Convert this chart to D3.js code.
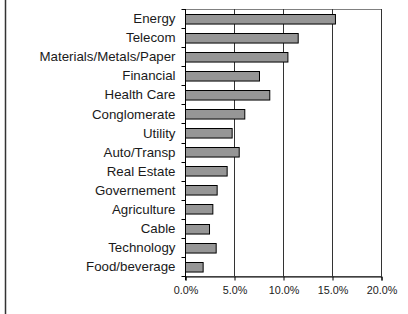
<!DOCTYPE html>
<html>
<head>
<meta charset="utf-8">
<script src="https://cdn.jsdelivr.net/npm/d3@7"></script>
<style>
  body { margin: 0; background: #fff; }
  svg { display: block; font-family: "Liberation Sans", Arial, sans-serif; }
</style>
</head>
<body>
<div id="chart"></div>
<script>
// sector weights (share of portfolio)
const sectors = ['Energy', 'Telecom', 'Materials/Metals/Paper', 'Financial', 'Health Care',
  'Conglomerate', 'Utility', 'Auto/Transp', 'Real Estate', 'Governement', 'Agriculture',
  'Cable', 'Technology', 'Food/beverage'];
const weights = [0.153, 0.115, 0.1045, 0.0755, 0.086, 0.0605, 0.0476, 0.0548, 0.0425,
  0.0323, 0.0279, 0.0245, 0.0313, 0.018];
const xTicks = [0, 0.05, 0.10, 0.15, 0.20];

const W = 408, H = 314;
const margin = { top: 9, right: 27, bottom: 38, left: 185 };
const width = W - margin.left - margin.right;
const height = H - margin.top - margin.bottom;

const svg = d3.select('#chart')
  .append('svg')
  .attr('width', W)
  .attr('height', H);

// chart area frame (only left edge visible)
svg.append('line')
  .attr('x1', 5.5).attr('x2', 5.5)
  .attr('y1', 0).attr('y2', H)
  .attr('stroke', '#333')
  .attr('stroke-width', 1.5);

const g = svg.append('g')
  .attr('transform', 'translate(' + margin.left + ',' + margin.top + ')');

const x = d3.scaleLinear()
  .domain([0, 0.20])
  .range([0, width]);

const y = d3.scaleBand()
  .domain(sectors)
  .range([0, height])
  .paddingInner(0.5)
  .paddingOuter(0.25);

// plot area border
g.append('rect')
  .attr('x', 0.5).attr('y', 0.5)
  .attr('width', width).attr('height', height)
  .attr('fill', 'none')
  .attr('stroke', '#808080');

// gridlines
g.selectAll('.grid')
  .data(xTicks.slice(1))
  .enter()
  .append('line')
  .attr('x1', d => Math.round(x(d)) + 0.5)
  .attr('x2', d => Math.round(x(d)) + 0.5)
  .attr('y1', 0)
  .attr('y2', height)
  .attr('stroke', '#333')
  .attr('stroke-width', 1);

// bars
g.selectAll('.bar')
  .data(sectors)
  .enter()
  .append('rect')
  .attr('x', 0.5)
  .attr('y', d => Math.round(y(d)) + 0.5)
  .attr('width', (d, i) => x(weights[i]))
  .attr('height', y.bandwidth())
  .attr('fill', '#969696')
  .attr('stroke', '#000')
  .attr('stroke-width', 1);

// X axis
const xAxis = g.append('g')
  .attr('transform', 'translate(0.5,' + (height + 0.5) + ')')
  .call(d3.axisBottom(x)
    .tickValues(xTicks)
    .tickFormat(d3.format('.1%'))
    .tickSize(4)
    .tickPadding(6));
xAxis.select('.domain').attr('stroke', '#000');
xAxis.selectAll('line').attr('stroke', '#000');
xAxis.selectAll('text')
  .attr('font-size', '10.8px')
  .attr('fill', '#1a1a1a')
  .attr('font-family', '"Liberation Sans", Arial, sans-serif');

// Y axis: labels centred on bars, ticks on band boundaries
const boundaries = d3.range(sectors.length + 1).map(i => i * height / sectors.length);
const yAxis = g.append('g').attr('transform', 'translate(0.5,0)');
yAxis.append('line')
  .attr('x1', 0).attr('x2', 0)
  .attr('y1', 0).attr('y2', height + 4)
  .attr('stroke', '#000');
yAxis.selectAll('.ytick')
  .data(boundaries)
  .enter()
  .append('line')
  .attr('x1', -4).attr('x2', 0)
  .attr('y1', d => Math.round(d) + 0.5)
  .attr('y2', d => Math.round(d) + 0.5)
  .attr('stroke', '#000');
yAxis.selectAll('.ylabel')
  .data(sectors)
  .enter()
  .append('text')
  .attr('x', -10)
  .attr('y', d => y(d) + y.bandwidth() / 2)
  .attr('dy', '0.35em')
  .attr('text-anchor', 'end')
  .attr('font-size', '13.3px')
  .attr('fill', '#1a1a1a')
  .text(d => d);
</script>
</body>
</html>
